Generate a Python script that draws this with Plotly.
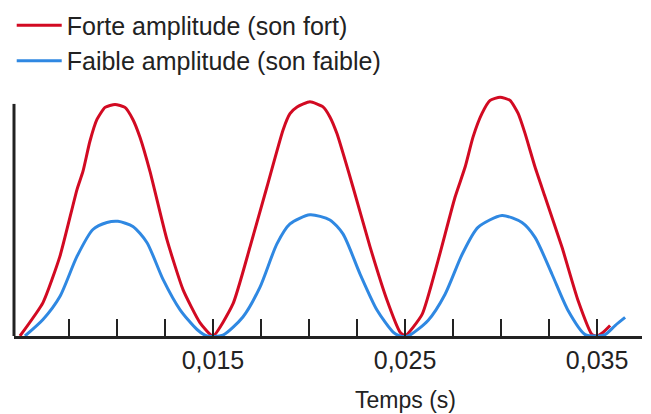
import plotly.graph_objects as go

# Time (s) and amplitude (arbitrary units)
t_fort = [0.00495, 0.00615, 0.00703, 0.00792, 0.00823, 0.00859, 0.00896, 0.00938, 0.0099,
          0.01042, 0.01083, 0.0112, 0.01172, 0.0126, 0.01344, 0.01432, 0.015,
          0.01604, 0.01693, 0.01781, 0.01865, 0.01901, 0.01938, 0.02005, 0.02073,
          0.02109, 0.02146, 0.02229, 0.02318, 0.02406, 0.02474, 0.025,
          0.02589, 0.02672, 0.0276, 0.02813, 0.02854, 0.02901, 0.02943, 0.02995,
          0.03047, 0.03089, 0.03125, 0.03177, 0.03229, 0.03318, 0.03401, 0.03474,
          0.035, 0.03531, 0.03568]
a_fort = [0.0, 0.144, 0.343, 0.631, 0.709, 0.838, 0.933, 0.985, 0.998,
          0.985, 0.933, 0.856, 0.709, 0.416, 0.2, 0.058, 0.0,
          0.138, 0.384, 0.642, 0.888, 0.958, 0.987, 1.009, 0.987,
          0.944, 0.871, 0.642, 0.384, 0.155, 0.017, 0.0,
          0.093, 0.325, 0.597, 0.728, 0.857, 0.959, 1.015, 1.029,
          1.015, 0.959, 0.873, 0.728, 0.60, 0.381, 0.153, 0.006,
          0.0, 0.015, 0.045]

t_faible = [0.00521, 0.00615, 0.00703, 0.00792, 0.00875, 0.00948, 0.01005, 0.01083,
            0.01156, 0.0124, 0.01328, 0.01417, 0.01469,
            0.01552, 0.01656, 0.01745, 0.01833, 0.01901, 0.02005, 0.02109, 0.02177,
            0.02266, 0.02354, 0.02438, 0.02474,
            0.02516, 0.0262, 0.02708, 0.02797, 0.0288, 0.03005, 0.03109, 0.03177,
            0.03266, 0.03349, 0.03438, 0.0349, 0.03542, 0.03594, 0.03646]
a_faible = [0.0, 0.071, 0.17, 0.343, 0.459, 0.489, 0.494, 0.472,
            0.403, 0.244, 0.114, 0.028, 0.0,
            0.004, 0.082, 0.211, 0.397, 0.483, 0.522, 0.5, 0.44,
            0.267, 0.112, 0.017, 0.0,
            0.0, 0.067, 0.179, 0.351, 0.468, 0.519, 0.489, 0.425,
            0.265, 0.11, 0.006, 0.0, 0.006, 0.045, 0.08]

tick_vals = [0.0075, 0.01, 0.0125, 0.015, 0.0175, 0.02, 0.0225, 0.025, 0.0275,
             0.03, 0.0325, 0.035, 0.0375]
tick_text = ["", "", "", "0,015", "", "", "", "0,025", "", "", "", "0,035", ""]

names = ["Forte amplitude (son fort)", "Faible amplitude (son faible)"]
colors = ["#d20a22", "#2f88e2"]

font = "Liberation Sans, Arial, sans-serif"
fsize = 25

fig = go.Figure()
fig.add_trace(go.Scatter(x=t_fort, y=a_fort, mode="lines", name=names[0],
                         line=dict(color=colors[0], width=3, shape="spline", smoothing=0.5)))
fig.add_trace(go.Scatter(x=t_faible, y=a_faible, mode="lines", name=names[1],
                         line=dict(color=colors[1], width=3, shape="spline", smoothing=0.7)))

# vertical axis line (shorter than the plot height)
fig.add_shape(type="line", xref="x domain", yref="y", x0=0, x1=0, y0=0, y1=1.0,
              line=dict(color="#222222", width=3))

fig.add_annotation(text="Temps (s)", xref="x", yref="paper", x=0.025, y=-0.26,
                   showarrow=False, font=dict(family=font, size=fsize - 2, color="#222222"),
                   xanchor="center", yanchor="middle")

fig.update_layout(
    width=651, height=414,
    margin=dict(l=14, r=9, t=90, b=78, autoexpand=False),
    paper_bgcolor="white", plot_bgcolor="white",
    font=dict(family=font, size=fsize, color="#222222"),
    showlegend=True,
    legend=dict(xref="container", yref="container", x=0.018, y=0.994,
                xanchor="left", yanchor="top",
                font=dict(family=font, size=fsize, color="#222222"),
                bgcolor="rgba(0,0,0,0)", tracegroupgap=0, itemwidth=45),
    xaxis=dict(range=[0.00464, 0.03734], showgrid=False, zeroline=False,
               showline=True, linecolor="#222222", linewidth=3,
               ticks="inside", ticklen=17, tickwidth=2, tickcolor="#222222",
               tickvals=tick_vals, ticktext=tick_text,
               tickfont=dict(family=font, size=fsize, color="#222222")),
    yaxis=dict(range=[0, 1.06], showgrid=False, zeroline=False, showline=False,
               showticklabels=False, ticks=""),
)

fig.write_html("out.html", config={"displayModeBar": False},
               post_script="document.body.style.margin='0px';")
